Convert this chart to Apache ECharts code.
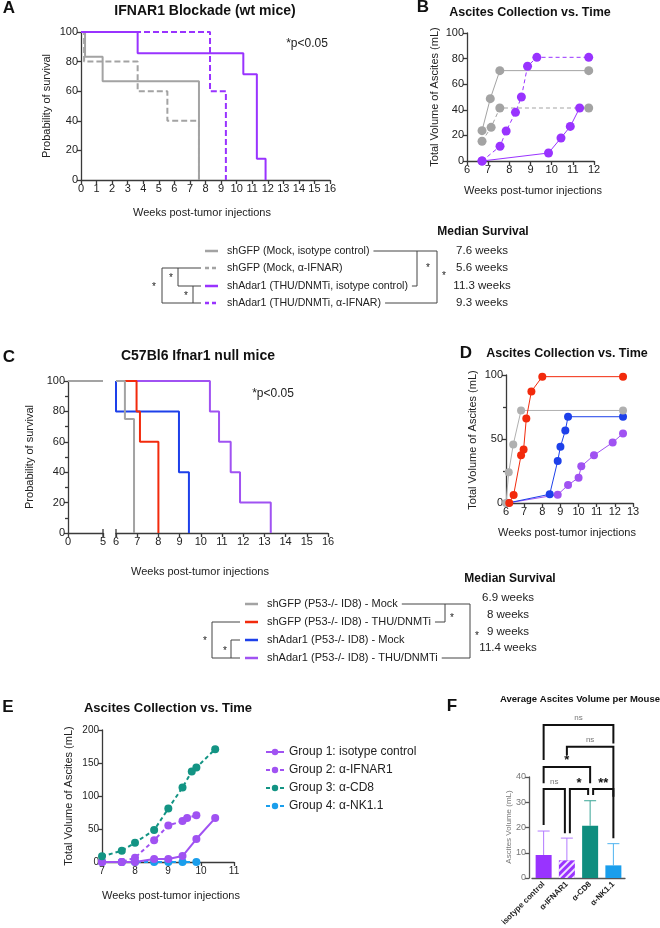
<!DOCTYPE html>
<html>
<head>
<meta charset="utf-8">
<script src="https://cdn.jsdelivr.net/npm/echarts@6/dist/echarts.min.js"></script>
<style>
html,body{margin:0;padding:0;background:#fff}
#main{width:660px;height:928px}
</style>
</head>
<body>
<div id="main"></div>
<script>
var FONT = '"Liberation Sans", Arial, sans-serif';

// ---- Panel A: IFNAR1 blockade survival (weeks, % alive)
var aGfpIso   = [[0,100],[0.26,83.3],[1.39,66.7],[7.58,0]];
var aGfpIfnar = [[0,100],[0.2,80],[3.64,60],[5.55,40],[7.58,0]];
var aAdarIso  = [[0,100],[3.64,85.7],[10.43,71.4],[11.3,14.3],[11.86,0]];
var aAdarIfnar= [[0,100],[8.29,60],[9.31,0]];

// ---- Panel B: ascites vs time
var bGray1 = [[6.71,23.7],[7.1,48.7],[7.55,70.6],[11.75,70.6]];
var bGray2 = [[6.71,15.4],[7.14,26.3],[7.55,41.4],[11.75,41.4]];
var bPurp1 = [[6.71,0],[7.56,11.5],[7.85,23.4],[8.29,38],[8.57,50],[8.86,74],[9.3,81],[11.75,81]];
var bPurp2 = [[6.71,0],[9.85,6.25],[10.44,18],[10.88,27],[11.32,41.4]];

// ---- Panel C: Ifnar1 null survival
var cGrayEarly = [[0,100],[5,100]];
var cGray   = [[6,100],[6.42,75],[6.85,0]];
var cRed    = [[6,100],[6.97,80],[7.13,60],[8.0,0]];
var cBlue   = [[6,100],[6,80],[8.97,40],[9.44,0]];
var cPurple = [[6,100],[10.43,80],[10.86,60],[11.41,40],[11.85,20],[13.3,0]];

// ---- Panel D: ascites vs time
var dGray   = [[6.0,0],[6.15,24],[6.4,45.7],[6.83,72.3],[12.45,72.3]];
var dRed    = [[6.18,0],[6.42,6.3],[6.83,37.3],[6.97,41.8],[7.12,66],[7.4,87.2],[8.0,98.7],[12.45,98.7]];
var dBlue   = [[6.1,0],[8.41,6.8],[8.85,32.9],[9.0,43.9],[9.27,56.7],[9.42,67.4],[12.45,67.4]];
var dPurple = [[6.1,0],[8.85,6.5],[9.42,14],[10.0,19.8],[10.15,28.7],[10.85,37.3],[11.88,47.3],[12.45,54.3]];

// ---- Panel E: ascites vs time, antibody groups
var eNames = ['Group 1: isotype control','Group 2: α-IFNAR1','Group 3: α-CD8','Group 4: α-NK1.1'];
var eIso   = [[7,0],[7.6,0],[8,0],[8.58,4.5],[9.01,4.5],[9.44,9],[9.86,34.8],[10.43,66.5]];
var eIfnar = [[7,0],[7.6,0],[8,6.5],[8.58,33],[9.01,55.4],[9.44,62],[9.58,66.5],[9.86,71]];
var eCd8   = [[7,8.6],[7.6,17],[8,29.2],[8.58,48.4],[9.01,81],[9.44,113],[9.72,137],[9.86,143],[10.43,171]];
var eNk    = [[7,0],[7.6,0],[8,0],[8.58,0],[9.01,0],[9.44,0],[9.86,0]];

// ---- Panel F: average ascites volume per mouse
var fCats  = ['isotype control','α-IFNAR1','α-CD8','α-NK1.1'];
var fMeans = [9.1, 7.0, 20.7, 5.0];
var fSd    = [9.5, 8.8, 9.9, 8.6];
// significance brackets: bars a-b, bar height, leg ends, label
var fSig = [
  {a:0,b:3,h:60.6,la:46.7,lb:53.3,t:'ns'},
  {a:1,b:3,h:52.0,la:48.7,lb:32.2,t:'ns'},
  {a:0,b:2,h:44.0,la:37.5,lb:37.5,t:'*'},
  {a:0,b:1,h:35.2,la:21.0,lb:17.7,t:'ns',ob:-2},
  {a:1,b:2,h:35.2,la:17.7,lb:32.9,t:'*',oa:3,ob:-2},
  {a:2,b:3,h:35.2,la:32.9,lb:15.7,t:'**',oa:3}
];

// ---- legend texts
var legA = ['shGFP (Mock, isotype control)','shGFP (Mock, α-IFNAR)','shAdar1 (THU/DNMTi, isotype control)','shAdar1 (THU/DNMTi, α-IFNAR)'];
var medA = ['7.6 weeks','5.6 weeks','11.3 weeks','9.3 weeks'];
var legC = ['shGFP (P53-/- ID8) - Mock','shGFP (P53-/- ID8) - THU/DNMTi','shAdar1 (P53-/- ID8) - Mock','shAdar1 (P53-/- ID8) - THU/DNMTi'];
var medC = ['6.9 weeks','8 weeks','9 weeks','11.4 weeks'];

var GRAY = '#a3a3a3', PURP = '#9933ff', RED = '#f22a0c', BLUE = '#1d40ea', PURP2 = '#a052f2';
var TEAL = '#139484', LBLUE = '#1a9eec';
var AX = '#3a3a3a';

var myChart = echarts.init(document.getElementById('main'));

function valAxis(g, min, max, interval, extra) {
  var o = {
    type: 'value', gridIndex: g, min: min, max: max, interval: interval,
    splitLine: {show: false},
    axisLine: {show: true, onZero: false, lineStyle: {color: AX, width: 1.3}},
    axisTick: {show: true, length: 4, lineStyle: {color: AX, width: 1.3}},
    axisLabel: {color: '#222', fontSize: 11, fontFamily: FONT, margin: 3}
  };
  for (var k in extra) o[k] = extra[k];
  return o;
}

function km(name, data, ax, color, dashed) {
  return {
    type: 'line', name: name, xAxisIndex: ax, yAxisIndex: ax, data: data, step: 'end',
    symbol: 'none', lineStyle: {color: color, width: 2, type: dashed ? [6, 3] : 'solid'}
  };
}

function pts(name, data, ax, color, dashed, size, width) {
  return {
    type: 'line', name: name, xAxisIndex: ax, yAxisIndex: ax, data: data,
    symbol: 'circle', symbolSize: size, itemStyle: {color: color},
    lineStyle: {color: color, width: width, type: dashed ? [4, 3] : 'solid'}
  };
}

function T(x, y, s, size, o) {
  o = o || {};
  return {
    type: 'text', x: x, y: y, rotation: o.rot || 0, silent: true,
    style: {
      text: s, font: (o.bold ? 'bold ' : '') + size + 'px ' + FONT, fill: o.color || '#222',
      textAlign: o.align || 'center', textVerticalAlign: 'middle',
      align: o.align || 'center', verticalAlign: 'middle'
    }
  };
}
function L(x1, y1, x2, y2, c, w, dash) {
  return {type: 'line', silent: true, shape: {x1: x1, y1: y1, x2: x2, y2: y2},
    style: {stroke: c || '#444', lineWidth: w || 1, lineDash: dash || null}};
}
var mctx = document.createElement('canvas').getContext('2d');
function tw(s, size) { mctx.font = size + 'px ' + FONT; return mctx.measureText(s).width; }

var grids = [
  {left: 81, top: 32, width: 249, height: 148},    // A
  {left: 467, top: 33, width: 127, height: 128},   // B
  {left: 68, top: 381, width: 35, height: 152},    // C early
  {left: 116, top: 381, width: 212, height: 152},  // C main
  {left: 506, top: 375, width: 127, height: 128},  // D
  {left: 102, top: 730, width: 132, height: 132},  // E
  {left: 532, top: 777, width: 93, height: 101}    // F
];
grids.forEach(function (g) { g.outerBoundsMode = 'none'; g.containLabel = false; });

var xAxes = [
  valAxis(0, 0, 16, 1),
  valAxis(1, 6, 12, 1),
  valAxis(2, 0, 5, 5),
  valAxis(3, 6, 16, 1),
  valAxis(4, 6, 13, 1),
  valAxis(5, 7, 11, 1, {axisLabel: {color: '#222', fontSize: 10, fontFamily: FONT, margin: 4}}),
  {type: 'category', gridIndex: 6, data: fCats,
    axisLine: {show: true, lineStyle: {color: '#555', width: 1.3}},
    axisTick: {show: false},
    axisLabel: {interval: 0, rotate: 45, fontSize: 8, fontWeight: 'bold', color: '#222', fontFamily: FONT, margin: 5}}
];
var yAxes = [
  valAxis(0, 0, 100, 20),
  valAxis(1, 0, 100, 20),
  valAxis(2, 0, 100, 20, {minorTick: {show: true, splitNumber: 2, length: 3, lineStyle: {color: AX, width: 1.3}}}),
  valAxis(3, 0, 100, 20, {show: false}),
  valAxis(4, 0, 100, 50, {minorTick: {show: true, splitNumber: 2, length: 3, lineStyle: {color: AX, width: 1.3}}}),
  valAxis(5, 0, 200, 50, {axisLabel: {color: '#222', fontSize: 10, fontFamily: FONT, margin: 3}}),
  valAxis(6, 0, 40, 10, {offset: 3,
    axisLine: {show: true, lineStyle: {color: '#555', width: 1.3}},
    axisTick: {show: true, length: 4, lineStyle: {color: '#555', width: 1.3}},
    axisLabel: {color: '#777', fontSize: 9, fontFamily: FONT, margin: 3}})
];

var series = [
  km('A gfp ifnar', aGfpIfnar, 0, GRAY, true),
  km('A gfp iso', aGfpIso, 0, GRAY, false),
  km('A adar ifnar', aAdarIfnar, 0, PURP, true),
  km('A adar iso', aAdarIso, 0, PURP, false),

  pts('B g1', bGray1, 1, GRAY, false, 9, 1),
  pts('B g2', bGray2, 1, GRAY, true, 9, 1),
  pts('B p1', bPurp1, 1, PURP, true, 9, 1),
  pts('B p2', bPurp2, 1, PURP, false, 9, 1),

  km('C gray early', cGrayEarly, 2, GRAY, false),
  km('C blue', cBlue, 3, BLUE, false),
  km('C purple', cPurple, 3, PURP2, false),
  km('C red', cRed, 3, RED, false),
  km('C gray', cGray, 3, GRAY, false),

  pts('D purple', dPurple, 4, PURP2, false, 8, 1),
  pts('D blue', dBlue, 4, BLUE, false, 8, 1),
  pts('D gray', dGray, 4, '#b0b0b0', false, 8, 1),
  pts('D red', dRed, 4, RED, false, 8, 1),

  pts(eNames[3], eNk, 5, LBLUE, true, 8, 2),
  pts(eNames[0], eIso, 5, PURP2, false, 8, 2),
  pts(eNames[1], eIfnar, 5, PURP2, true, 8, 2),
  pts(eNames[2], eCd8, 5, TEAL, true, 8, 2),

  {type: 'bar', name: 'F bars', xAxisIndex: 6, yAxisIndex: 6, barWidth: 16,
    data: fMeans.map(function (v, i) {
      var item = {value: v, itemStyle: {color: [PURP, PURP, '#0f8e7f', LBLUE][i]}};
      if (i === 1) item.itemStyle.decal = {symbol: 'rect', dashArrayX: [1, 0], dashArrayY: [2, 3], rotation: -Math.PI / 4, color: 'rgba(255,255,255,0.85)'};
      return item;
    })},
  {type: 'custom', name: 'F err', xAxisIndex: 6, yAxisIndex: 6,
    data: fMeans.map(function (v, i) { return [i, v, v + fSd[i]]; }),
    renderItem: function (params, api) {
      var base = api.coord([api.value(0), api.value(1)]);
      var top = api.coord([api.value(0), api.value(2)]);
      var c = ['#b27aff', '#b27aff', '#3aa596', '#4fb3f0'][params.dataIndex];
      return {type: 'group', children: [
        {type: 'line', shape: {x1: base[0], y1: base[1], x2: top[0], y2: top[1]}, style: {stroke: c, lineWidth: 1}},
        {type: 'line', shape: {x1: top[0] - 6, y1: top[1], x2: top[0] + 6, y2: top[1]}, style: {stroke: c, lineWidth: 1}}
      ]};
    }}
];
series.forEach(function (s) { s.animation = false; });

// ---- static graphics: titles, axis names, legends
var g = [];
g.push(T(9, 8, 'A', 17, {bold: true, color: '#111'}));
g.push(T(205, 11, 'IFNAR1 Blockade (wt mice)', 14, {bold: true, color: '#111'}));
g.push(T(307, 44, '*p<0.05', 12));
g.push(T(47, 106, 'Probability of survival', 11, {rot: Math.PI / 2}));
g.push(T(202, 213, 'Weeks post-tumor injections', 11));

g.push(T(423, 7, 'B', 17, {bold: true, color: '#111'}));
g.push(T(530, 13, 'Ascites Collection vs. Time', 12.5, {bold: true, color: '#111'}));
g.push(T(435, 97, 'Total Volume of Ascites (mL)', 11, {rot: Math.PI / 2}));
g.push(T(533, 191, 'Weeks post-tumor injections', 11));

g.push(T(9, 357, 'C', 17, {bold: true, color: '#111'}));
g.push(T(198, 356, 'C57Bl6 Ifnar1 null mice', 14, {bold: true, color: '#111'}));
g.push(T(273, 394, '*p<0.05', 12));
g.push(T(30, 457, 'Probability of survival', 11, {rot: Math.PI / 2}));
g.push(T(200, 572, 'Weeks post-tumor injections', 11));
g.push(L(103, 529, 103, 537, AX, 1.3));
g.push(L(116, 529, 116, 537, AX, 1.3));

g.push(T(466, 353, 'D', 17, {bold: true, color: '#111'}));
g.push(T(567, 354, 'Ascites Collection vs. Time', 12.5, {bold: true, color: '#111'}));
g.push(T(473, 440, 'Total Volume of Ascites (mL)', 11, {rot: Math.PI / 2}));
g.push(T(567, 533, 'Weeks post-tumor injections', 11));

g.push(T(8, 707, 'E', 17, {bold: true, color: '#111'}));
g.push(T(168, 708, 'Ascites Collection vs. Time', 13, {bold: true, color: '#111'}));
g.push(T(69, 796, 'Total Volume of Ascites (mL)', 11, {rot: Math.PI / 2}));
g.push(T(171, 896, 'Weeks post-tumor injections', 11));

g.push(T(452, 706, 'F', 17, {bold: true, color: '#111'}));
g.push(T(580, 699, 'Average Ascites Volume per Mouse', 9.5, {bold: true, color: '#111'}));
g.push(T(509, 827, 'Ascites Volume (mL)', 8, {rot: Math.PI / 2, color: '#777'}));

// legend A
var rowsA = [251, 268, 286, 303];
var styleA = [[GRAY, null], [GRAY, [4, 3]], [PURP, null], [PURP, [4, 3]]];
g.push(T(483, 232, 'Median Survival', 12, {bold: true, color: '#111'}));
rowsA.forEach(function (y, i) {
  g.push(L(205, y, 218, y, styleA[i][0], 2.5, styleA[i][1]));
  g.push(T(227, y, legA[i], 10.6, {align: 'left'}));
  g.push(T(482, y, medA[i], 11.5));
});
var endA = legA.map(function (s) { return 227 + tw(s, 10.6) + 4; });
g.push(L(endA[0], rowsA[0], 437, rowsA[0]));
g.push(L(endA[2], rowsA[2], 417, rowsA[2]));
g.push(L(endA[3], rowsA[3], 437, rowsA[3]));
g.push(L(417, rowsA[0], 417, rowsA[2]));
g.push(L(437, rowsA[0], 437, rowsA[3]));
g.push(T(428, 268, '*', 10));
g.push(T(444, 276, '*', 10));
g.push(L(162, rowsA[1], 201, rowsA[1]));
g.push(L(162, rowsA[3], 201, rowsA[3]));
g.push(L(162, rowsA[1], 162, rowsA[3]));
g.push(L(178, rowsA[2], 201, rowsA[2]));
g.push(L(178, rowsA[1], 178, rowsA[2]));
g.push(L(193, rowsA[2], 193, rowsA[3]));
g.push(T(154, 287, '*', 10));
g.push(T(171, 278, '*', 10));
g.push(T(186, 296, '*', 10));

// legend C
var rowsC = [604, 622, 640, 658];
var colC = [GRAY, RED, BLUE, PURP2];
g.push(T(510, 579, 'Median Survival', 12, {bold: true, color: '#111'}));
rowsC.forEach(function (y, i) {
  g.push(L(245, y, 258, y, colC[i], 2.5));
  g.push(T(267, y, legC[i], 11, {align: 'left'}));
});
[598, 615, 632, 648].forEach(function (y, i) { g.push(T(508, y, medC[i], 11.5)); });
var endC = legC.map(function (s) { return 267 + tw(s, 11) + 4; });
g.push(L(endC[0], rowsC[0], 470, rowsC[0]));
g.push(L(endC[1], rowsC[1], 445, rowsC[1]));
g.push(L(endC[3], rowsC[3], 470, rowsC[3]));
g.push(L(445, rowsC[0], 445, rowsC[1]));
g.push(L(470, rowsC[0], 470, rowsC[3]));
g.push(T(452, 618, '*', 10));
g.push(T(477, 636, '*', 10));
g.push(L(212, rowsC[1], 240, rowsC[1]));
g.push(L(212, rowsC[3], 240, rowsC[3]));
g.push(L(212, rowsC[1], 212, rowsC[3]));
g.push(L(231, rowsC[2], 240, rowsC[2]));
g.push(L(231, rowsC[2], 231, rowsC[3]));
g.push(T(205, 641, '*', 10));
g.push(T(225, 651, '*', 10));

option = {
  backgroundColor: '#fff',
  textStyle: {fontFamily: FONT},
  grid: grids,
  xAxis: xAxes,
  yAxis: yAxes,
  legend: {
    data: [eNames[0], eNames[1], eNames[2], eNames[3]],
    orient: 'vertical', left: 260, top: 741, itemGap: 6, itemWidth: 18, itemHeight: 8,
    textStyle: {fontSize: 12, color: '#222', fontFamily: FONT}, selectedMode: false
  },
  series: series,
  graphic: g
};
myChart.setOption(option);

// significance brackets in F, placed through the chart's own scale
var sigG = [];
fSig.forEach(function (s) {
  var pa = myChart.convertToPixel({gridIndex: 6}, [s.a, s.h]);
  var pb = myChart.convertToPixel({gridIndex: 6}, [s.b, s.h]);
  var xa = pa[0] + (s.oa || 0), xb = pb[0] + (s.ob || 0);
  var ya = myChart.convertToPixel({gridIndex: 6}, [s.a, s.la])[1];
  var yb = myChart.convertToPixel({gridIndex: 6}, [s.b, s.lb])[1];
  sigG.push({type: 'polyline', silent: true, shape: {points: [[xa, ya], [xa, pa[1]], [xb, pa[1]], [xb, yb]]},
    style: {stroke: '#111', lineWidth: 2, fill: null}});
  if (s.t === 'ns') sigG.push(T((xa + xb) / 2, pa[1] - 7, 'ns', 8, {color: '#777'}));
  else sigG.push(T((xa + xb) / 2, pa[1] - 6, s.t, 13, {bold: true, color: '#111'}));
});
myChart.setOption({graphic: g.concat(sigG)});

window.addEventListener('resize', function () { myChart.resize(); });
</script>
</body>
</html>
